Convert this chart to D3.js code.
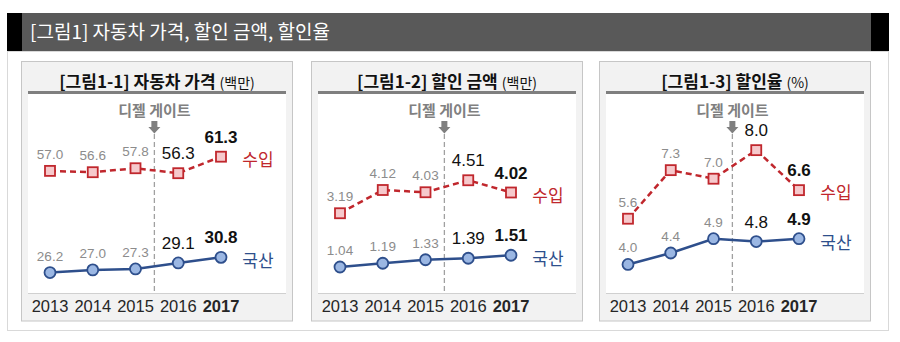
<!DOCTYPE html>
<html><head><meta charset="utf-8">
<script src="https://cdn.jsdelivr.net/npm/d3@7"></script>
<style>body{margin:0;background:#fff}svg{display:block}</style>
</head><body>
<svg id="c" width="900" height="342"></svg>
<script>
const years = ["2013","2014","2015","2016","2017"];
const mainTitle = "[그림1] 자동차 가격, 할인 금액, 할인율";
const panelTitles = ["[그림1-1] 자동차 가격","[그림1-2] 할인 금액","[그림1-3] 할인율"];
const panelUnits = ["(백만)","(백만)","(%)"];
const seriesNames = ["수입","국산"];
const eventLabel = "디젤 게이트";
const importPrice = [57.0,56.6,57.8,56.3,61.3];
const domesticPrice = [26.2,27.0,27.3,29.1,30.8];
const importDiscount = [3.19,4.12,4.03,4.51,4.02];
const domesticDiscount = [1.04,1.19,1.33,1.39,1.51];
const importRate = [5.6,7.3,7.0,8.0,6.6];
const domesticRate = [4.0,4.4,4.9,4.8,4.9];
const yDomains = [[20,80.6],[0,8],[3,10]];
const formats = [".1f",".2f",".1f"];

const panels = [
  {imp:importPrice, dom:domesticPrice},
  {imp:importDiscount, dom:domesticDiscount},
  {imp:importRate, dom:domesticRate}
];
const lefts = [21.5,311.5,599.5];
const FONT = "'Liberation Sans','Noto Sans CJK KR',Arial,sans-serif";
const NFONT = "'Liberation Sans Narrow','Liberation Sans',Arial,sans-serif";
const KFONT = "'Noto Sans CJK KR','Liberation Sans',sans-serif";
const RED = "#c0272d", BLUE = "#2e4f8c";

const svg = d3.select("#c");
svg.append("rect").attr("x",7.5).attr("y",51.5).attr("width",881).attr("height",279)
  .attr("fill","#fff").attr("stroke","#d9d9d9");
svg.append("rect").attr("x",7).attr("y",13).attr("width",882).attr("height",38).attr("fill","#595959");
svg.append("rect").attr("x",7).attr("y",13).attr("width",15).attr("height",38).attr("fill","#000");
svg.append("rect").attr("x",871).attr("y",13).attr("width",18).attr("height",38).attr("fill","#000");
svg.append("text").attr("x",30).attr("y",38.5).attr("fill","#fff")
  .attr("font-family",KFONT).attr("font-size",19).text(mainTitle);

panels.forEach((p,i)=>{
  const L = lefts[i];
  const g = svg.append("g");
  g.append("rect").attr("x",L).attr("y",61.5).attr("width",271).attr("height",259.5)
    .attr("fill","#f2f2f2").attr("stroke","#c6c6c6");
  g.append("rect").attr("x",L+6.5).attr("y",94).attr("width",258).attr("height",199).attr("fill","#fff");
  g.append("rect").attr("x",L+6.5).attr("y",91).attr("width",258).attr("height",3).attr("fill","#7f7f7f");
  g.append("line").attr("x1",L+6.5).attr("x2",L+264.5).attr("y1",293.5).attr("y2",293.5)
    .attr("stroke","#d0d0d0");
  const t = g.append("text").attr("x",L+135.5).attr("y",87.5).attr("text-anchor","middle")
    .attr("font-family",KFONT).attr("fill","#111");
  t.append("tspan").attr("font-weight","bold").attr("font-size",17).text(panelTitles[i]);
  t.append("tspan").attr("font-size",14).attr("dx",4).text(panelUnits[i]);

  const x = d3.scalePoint().domain(years).range([L+28.5, L+199.5]);
  const y = d3.scaleLinear().domain(yDomains[i]).range([293, 93]);
  const step = x.step();
  const ex = x("2015") + step/2 - 2.5;

  g.append("text").attr("x",ex).attr("y",115.5).attr("text-anchor","middle")
    .attr("font-family",KFONT).attr("font-size",15).attr("font-weight","bold")
    .attr("fill","#808080").text(eventLabel);
  g.append("path").attr("fill","#7f7f7f")
    .attr("d",`M${ex-3},121 L${ex+3},121 L${ex+3},127 L${ex+6},127 L${ex},133.5 L${ex-6},127 L${ex-3},127 Z`);
  g.append("line").attr("x1",ex).attr("x2",ex).attr("y1",134).attr("y2",293)
    .attr("stroke","#a0a0a0").attr("stroke-width",1.3).attr("stroke-dasharray","5,3");

  g.selectAll(".yr").data(years).join("text")
    .attr("x",d=>x(d)).attr("y",312).attr("text-anchor","middle")
    .attr("font-family",NFONT).attr("font-size",16.5).attr("fill","#262626")
    .attr("font-weight",(d,j)=>j===4?"bold":"normal").text(d=>d);

  const line = d3.line().x((d,j)=>x(years[j])).y(d=>y(d));
  g.append("path").datum(p.imp).attr("d",line).attr("fill","none")
    .attr("stroke",RED).attr("stroke-width",2.5).attr("stroke-dasharray","6,4");
  g.append("path").datum(p.dom).attr("d",line).attr("fill","none")
    .attr("stroke",BLUE).attr("stroke-width",2.5);

  g.selectAll(".sq").data(p.imp).join("rect")
    .attr("x",(d,j)=>x(years[j])-5).attr("y",d=>y(d)-5).attr("width",10).attr("height",10)
    .attr("fill","#f6c9cc").attr("stroke",RED).attr("stroke-width",1.8);
  g.selectAll(".ci").data(p.dom).join("circle")
    .attr("cx",(d,j)=>x(years[j])).attr("cy",d=>y(d)).attr("r",5.5)
    .attr("fill","#9bb7e3").attr("stroke",BLUE).attr("stroke-width",1.8);

  const fmt = d3.format(formats[i]);
  [p.imp,p.dom].forEach(arr=>{
    g.selectAll(null).data(arr).join("text")
      .attr("x",(d,j)=>x(years[j]))
      .attr("y",(d,j)=>y(d) - (j<3?12:14))
      .attr("text-anchor","middle").attr("font-family",FONT)
      .attr("font-size",(d,j)=>j<3?13.5:17)
      .attr("font-weight",(d,j)=>j===4?"bold":"normal")
      .attr("fill",(d,j)=>j<3?"#8c8c8c":"#111")
      .text(d=>fmt(d));
  });

  const x17 = x("2017") + 37;
  g.append("text").attr("x",x17).attr("y",y(p.imp[4])+9).attr("text-anchor","middle")
    .attr("font-family",KFONT).attr("font-size",17).attr("fill",RED).text(seriesNames[0]);
  g.append("text").attr("x",x17).attr("y",y(p.dom[4])+10).attr("text-anchor","middle")
    .attr("font-family",KFONT).attr("font-size",17).attr("fill",BLUE).text(seriesNames[1]);
});
</script>
</body></html>
